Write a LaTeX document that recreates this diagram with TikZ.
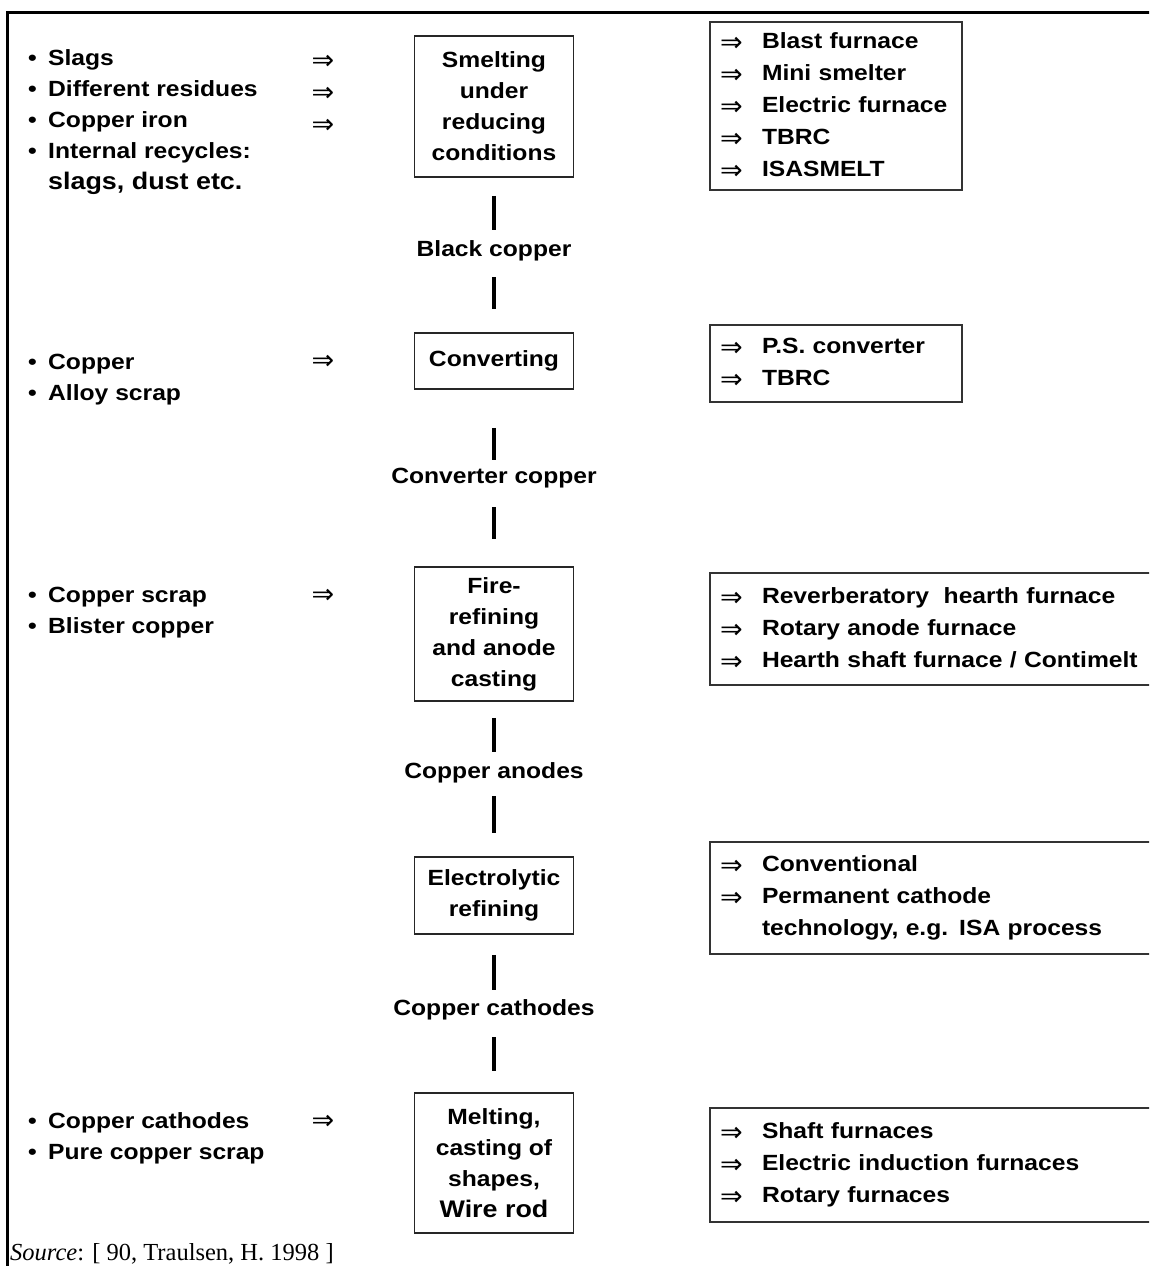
\documentclass[tikz,border=0pt]{standalone}
\usepackage{fontspec}
\setmainfont{Liberation Sans}[FakeStretch=1.12]
\newfontfamily\srcfont{Liberation Serif}
\newfontfamily\arrfont{DejaVu Sans}
\newcommand{\fs}{\fontsize{22}{31}\selectfont\bfseries}
\newcommand{\fsr}{\fontsize{22}{32}\selectfont\bfseries}
\newcommand{\arr}{\makebox[42pt][l]{\raisebox{-2.5pt}{\arrfont\mdseries\fontsize{27}{27}\selectfont ⇒}}}
\newcommand{\bul}{\makebox[20pt][l]{•}}
\newcommand{\st}{\rule{0pt}{18pt}}
\begin{document}
\begin{tikzpicture}[x=1pt,y=-1pt]
\tikzset{
  proc/.style={draw=black!85, line width=1.6pt, minimum width=159pt, align=center, inner sep=0pt, font=\fs},
  opt/.style={draw=black!80, line width=1.6pt, align=left, inner xsep=10pt, inner ysep=0pt, font=\fsr},
  lab/.style={font=\fs, inner sep=0pt},
  feed/.style={font=\fs, align=left, anchor=north west, inner sep=0pt},
  parr/.style={font=\arrfont\fontsize{27}{27}\selectfont, inner sep=0pt},
  conn/.style={line width=3.5pt},
  frame/.style={line width=3pt}
}
\useasboundingbox (0,0) rectangle (1149,1266);
\clip (0,0) rectangle (1149,1266);
% frame
\coordinate (fbl) at (7,1270);
\coordinate (ftl) at (7,12);
\coordinate (ftr) at (1152,12);
\draw[frame] (fbl) -- (ftl) -- (ftr);

% process boxes
\node[proc, minimum height=141pt] (b1) at (494,106.5) {Smelting\\under\\reducing\\conditions};
\node[proc, minimum height=56pt] (b2) at (494,361) {Converting};
\node[proc, minimum height=134pt] (b3) at (494,634) {Fire-\\refining\\and anode\\casting};
\node[proc, minimum height=77pt] (b4) at (494,895.5) {Electrolytic\\refining};
\node[proc, minimum height=140pt] (b5) at (494,1163) {Melting,\\casting of\\shapes,\\{\fontsize{24}{31}\selectfont Wire rod}};

% intermediate products
\node[lab] (l1) at (494,251) {Black copper};
\node[lab] (l2) at (494,478) {Converter copper};
\node[lab] (l3) at (494,773) {Copper anodes};
\node[lab] (l4) at (494,1010) {Copper cathodes};

% connectors
\draw[conn, shorten <=18pt, shorten >=21pt] (b1.south) -- (l1.center);
\draw[conn, shorten <=26pt, shorten >=23pt] (l1.center) -- (b2.north);
\draw[conn, shorten <=38pt, shorten >=18pt] (b2.south) -- (l2.center);
\draw[conn, shorten <=29pt, shorten >=27pt] (l2.center) -- (b3.north);
\draw[conn, shorten <=16pt, shorten >=21pt] (b3.south) -- (l3.center);
\draw[conn, shorten <=23pt, shorten >=23pt] (l3.center) -- (b4.north);
\draw[conn, shorten <=20pt, shorten >=20pt] (b4.south) -- (l4.center);
\draw[conn, shorten <=27pt, shorten >=21pt] (l4.center) -- (b5.north);

% feed materials
\node[feed] (f1) at (28,47) {\st\bul Slags\\\bul Different residues\\\bul Copper iron\\\bul Internal recycles:\\\hspace*{20pt}{\fontsize{24}{31}\selectfont slags, dust etc.}};
\node[feed] (f2) at (28,351) {\st\bul Copper\\\bul Alloy scrap};
\node[feed] (f3) at (28,584) {\st\bul Copper scrap\\\bul Blister copper};
\node[feed] (f4) at (28,1110) {\st\bul Copper cathodes\\\bul Pure copper scrap};

\node[parr] (a1) at (323,62) {⇒};
\node[parr] (a2) at (323,94) {⇒};
\node[parr] (a3) at (323,126) {⇒};
\node[parr] (a4) at (323,362) {⇒};
\node[parr] (a5) at (323,596) {⇒};
\node[parr] (a6) at (323,1122) {⇒};

% equipment boxes
\node[opt, text width=232pt, minimum height=168pt] (r1) at (836,106) {\arr Blast furnace\\\arr Mini smelter\\\arr Electric furnace\\\arr TBRC\\\arr ISASMELT};
\node[opt, text width=232pt, minimum height=77pt] (r2) at (836,363.5) {\arr P.S. converter\\\arr TBRC};
\node[opt, text width=440pt, minimum height=112pt] (r3) at (940,629) {\arr Reverberatory\ \ hearth furnace\\\arr Rotary anode furnace\\\arr Hearth shaft furnace / Contimelt};
\node[opt, text width=440pt, minimum height=112pt] (r4) at (940,898) {\arr Conventional\\\arr Permanent cathode\\\hspace*{42pt}technology, e.g. ISA process};
\node[opt, text width=440pt, minimum height=114pt] (r5) at (940,1165) {\arr Shaft furnaces\\\arr Electric induction furnaces\\\arr Rotary furnaces};

% source
\node[anchor=base west, inner sep=0pt, font=\srcfont\fontsize{24.5}{24.5}\selectfont] (src) at (10,1260) {\textit{Source}: [ 90, Traulsen, H. 1998 ]};
\end{tikzpicture}
\end{document}
